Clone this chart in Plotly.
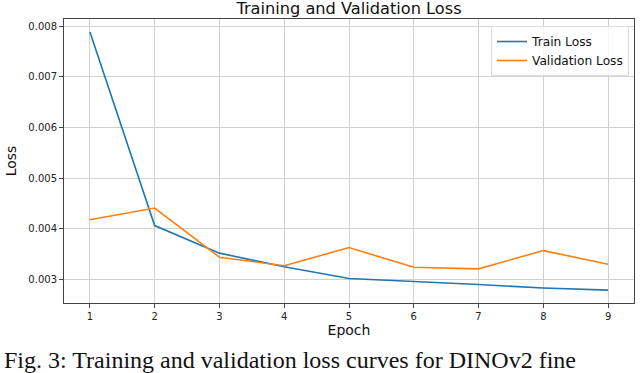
import plotly.graph_objects as go

epochs = [1, 2, 3, 4, 5, 6, 7, 8, 9]
train_loss = [0.00789, 0.004065, 0.00352, 0.00325, 0.00302, 0.002966, 0.00290, 0.002832, 0.00279]
val_loss = [0.00418, 0.00441, 0.00344, 0.00327, 0.00363, 0.00324, 0.00321, 0.00357, 0.00330]
y_ticks = [0.003, 0.004, 0.005, 0.006, 0.007, 0.008]
x_ticks = epochs
caption = "Fig. 3: Training and validation loss curves for DINOv2 fine"

W, H = 640, 373
ml, mr, mt, mb = 64, 6, 19, 70
pw = W - ml - mr
ph = H - mt - mb

fig = go.Figure()
fig.add_trace(go.Scatter(x=epochs, y=train_loss, mode="lines", name="Train Loss",
                         line=dict(color="#1f77b4", width=1.6)))
fig.add_trace(go.Scatter(x=epochs, y=val_loss, mode="lines", name="Validation Loss",
                         line=dict(color="#ff7f0e", width=1.6)))

axis_common = dict(showline=True, mirror=True, linecolor="#444444", linewidth=1,
                   ticks="outside", ticklen=4, tickcolor="#444444", automargin=False,
                   showgrid=True, gridcolor="#d0d0d0", gridwidth=1, zeroline=False,
                   tickfont=dict(family="DejaVu Sans", size=10, color="#222222"))

fig.update_xaxes(range=[0.6, 9.4], tickvals=x_ticks, ticktext=[str(t) for t in x_ticks],
                 title=dict(text="Epoch", font=dict(family="DejaVu Sans", size=14, color="#111111"), standoff=4),
                 **axis_common)
fig.update_yaxes(range=[0.002535, 0.008145], tickvals=y_ticks, ticktext=[f"{t:.3f}" for t in y_ticks],
                 title=dict(text="Loss", font=dict(family="DejaVu Sans", size=14, color="#111111"), standoff=8),
                 **axis_common)

fig.update_layout(
    width=W, height=H,
    margin=dict(l=ml, r=mr, t=mt, b=mb),
    paper_bgcolor="white", plot_bgcolor="white",
    title=dict(text="Training and Validation Loss", x=349 / W, xanchor="center",
               y=1 - 8 / H, yanchor="middle", yref="container",
               font=dict(family="DejaVu Sans", size=16.2, color="#111111")),
    legend=dict(x=(629 - ml) / pw, y=(H - mb - 26) / ph, xanchor="right", yanchor="top",
                bgcolor="rgba(255,255,255,0.85)", bordercolor="#dddddd", borderwidth=1,
                font=dict(family="DejaVu Sans", size=12.2, color="#111111")),
    showlegend=True,
)

fig.add_annotation(text=caption,
                   xref="paper", yref="paper", x=-(ml - 2) / pw,
                   y=(H - mb - 345) / ph, xanchor="left", yanchor="top", showarrow=False,
                   font=dict(family="Liberation Serif", size=24, color="#111111"))

fig.write_html("out.html", config={"displayModeBar": False},
               post_script="document.body.style.margin='0px';document.body.style.overflow='hidden';")
